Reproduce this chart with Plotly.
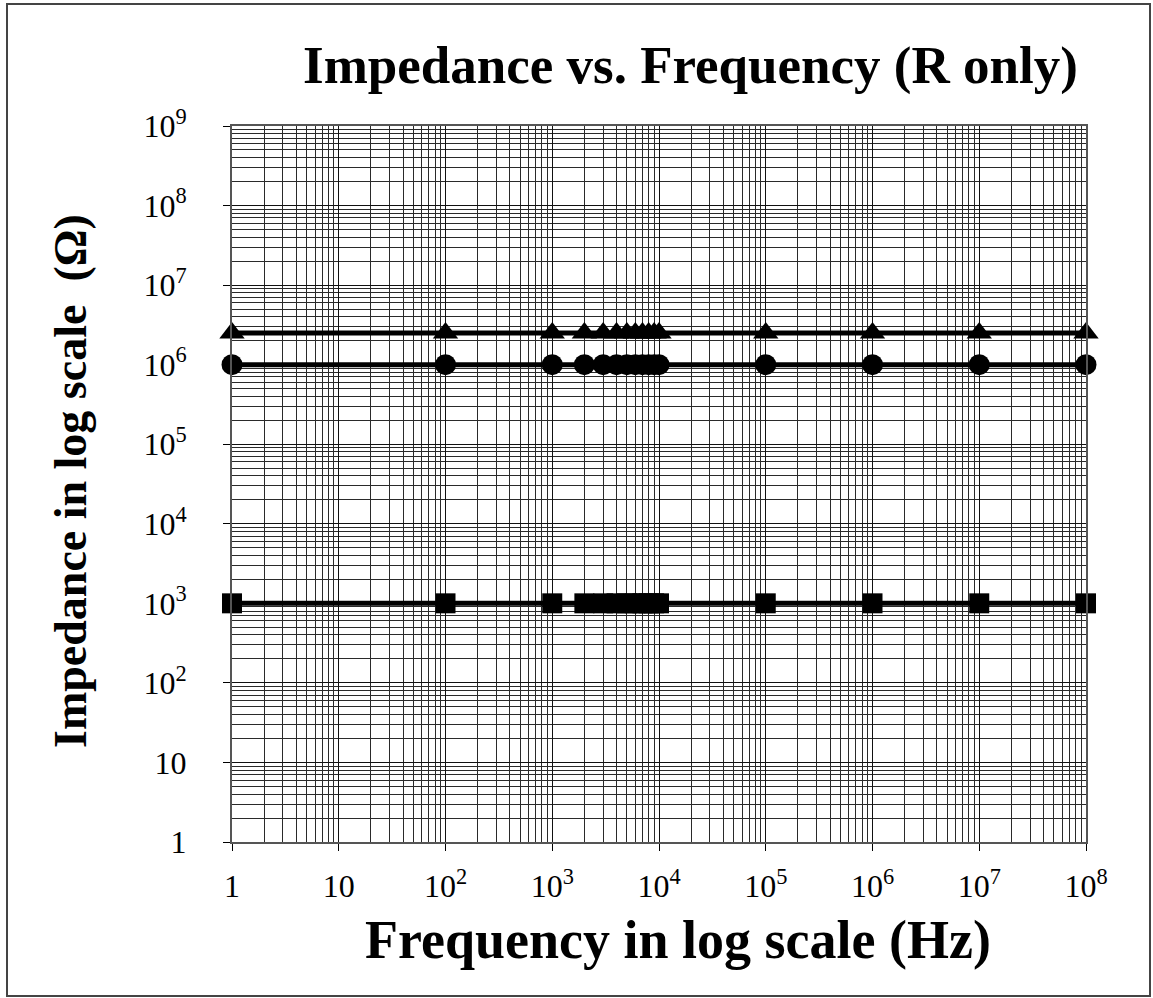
import plotly.graph_objects as go

# Measured frequencies (Hz) and impedance magnitudes (ohm) for three resistors
freq_hz = [1, 1e2, 1e3, 2e3, 3e3, 4e3, 5e3, 6e3, 7e3, 8e3, 9e3, 1e4, 1e5, 1e6, 1e7, 1e8]
z_r_large = [2.5e6] * len(freq_hz)
z_r_medium = [1.0e6] * len(freq_hz)
z_r_small = [1.0e3] * len(freq_hz)

x_tick_vals = [1, 10, 1e2, 1e3, 1e4, 1e5, 1e6, 1e7, 1e8]
x_tick_text = ["1", "10", "10<sup>2</sup>", "10<sup>3</sup>", "10<sup>4</sup>",
               "10<sup>5</sup>", "10<sup>6</sup>", "10<sup>7</sup>", "10<sup>8</sup>"]
y_tick_vals = [1, 10, 1e2, 1e3, 1e4, 1e5, 1e6, 1e7, 1e8, 1e9]
y_tick_text = ["1", "10", "10<sup>2</sup>", "10<sup>3</sup>", "10<sup>4</sup>",
               "10<sup>5</sup>", "10<sup>6</sup>", "10<sup>7</sup>", "10<sup>8</sup>",
               "10<sup>9</sup>"]

W, H = 1153, 998
L, R, T, B = 232, 1086, 126, 842  # plot-area edges in pixels

SERIF = "Liberation Serif, Times New Roman, serif"

fig = go.Figure()

series = [
    (z_r_large, "triangle-up", 22),
    (z_r_medium, "circle", 21),
    (z_r_small, "square", 20),
]
for z, sym, size in series:
    fig.add_trace(go.Scatter(
        x=freq_hz, y=z, mode="lines+markers",
        line=dict(color="black", width=5),
        marker=dict(symbol=sym, size=size, color="black"),
        cliponaxis=False,
        showlegend=False,
    ))

axis_common = dict(
    type="log",
    showgrid=True, gridcolor="#111", gridwidth=1,
    minor=dict(showgrid=True, gridcolor="#2a2a2a", gridwidth=1, dtick="D1",
               ticks=""),
    showline=True, linecolor="#555", linewidth=2, mirror=True,
    ticks="outside", ticklen=7, tickcolor="black", tickwidth=1,
    tickfont=dict(family=SERIF, size=32, color="black"),
    zeroline=False,
)

fig.update_xaxes(axis_common, range=[0, 8], tickmode="array",
                 tickvals=x_tick_vals, ticktext=x_tick_text,
                 ticklabelstandoff=8)
fig.update_yaxes(axis_common, range=[0, 9], tickmode="array",
                 tickvals=y_tick_vals, ticktext=y_tick_text,
                 ticklabelstandoff=30)

def px_x(p):
    return (p - L) / (R - L)

def px_y(p):
    return (B - p) / (B - T)

fig.add_annotation(
    text="Impedance vs. Frequency (R only)",
    xref="paper", yref="paper", x=px_x(690), y=px_y(66),
    xanchor="center", yanchor="middle", showarrow=False,
    font=dict(family=SERIF, size=53, color="black", weight="bold"),
)
fig.add_annotation(
    text="Frequency in log scale (Hz)",
    xref="paper", yref="paper", x=px_x(678), y=px_y(940),
    xanchor="center", yanchor="middle", showarrow=False,
    font=dict(family=SERIF, size=54, color="black", weight="bold"),
)
fig.add_annotation(
    text="Impedance in log scale\u00a0\u00a0(\u03a9)",
    xref="paper", yref="paper", x=px_x(70), y=px_y(481),
    xanchor="center", yanchor="middle", showarrow=False, textangle=-90,
    font=dict(family=SERIF, size=46, color="black", weight="bold"),
)

# outer frame around the whole figure
fig.add_shape(type="rect", xref="paper", yref="paper",
              x0=px_x(7), x1=px_x(1150), y0=px_y(996), y1=px_y(4),
              line=dict(color="#444", width=2), layer="below")

fig.update_layout(
    width=W, height=H,
    margin=dict(l=L, r=W - R, t=T, b=H - B),
    paper_bgcolor="white", plot_bgcolor="white",
)

fig.write_html("out.html")
